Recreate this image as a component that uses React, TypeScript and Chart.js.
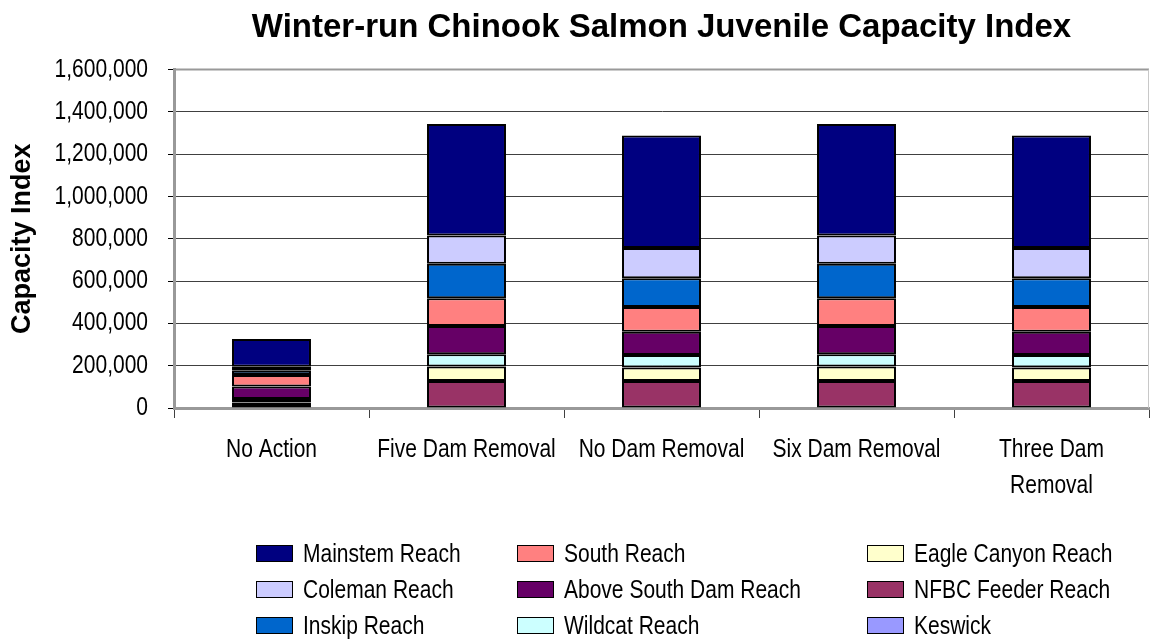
import React, { useEffect, useRef } from "react";
import { Chart, registerables } from "chart.js";

Chart.register(...registerables);

const categories: (string | string[])[] = [
  "No Action",
  "Five Dam Removal",
  "No Dam Removal",
  "Six Dam Removal",
  ["Three Dam", "Removal"],
];

// stacked bottom to top
const keswick = [0, 0, 0, 0, 0];
const nfbcFeederReach = [14000, 128000, 128000, 128000, 128000];
const eagleCanyonReach = [12000, 68000, 63000, 68000, 63000];
const wildcatReach = [16000, 58000, 60000, 58000, 60000];
const aboveSouthDamReach = [60000, 134000, 110000, 134000, 110000];
const southReach = [54000, 131000, 116000, 131000, 116000];
const inskipReach = [20000, 163000, 137000, 163000, 137000];
const colemanReach = [19000, 134000, 142000, 134000, 142000];
const mainstemReach = [131000, 527000, 532000, 527000, 532000];

const yMin = 0;
const yMax = 1600000;
const yStep = 200000;

const seriesNames = [
  "Keswick",
  "NFBC Feeder Reach",
  "Eagle Canyon Reach",
  "Wildcat Reach",
  "Above South Dam Reach",
  "South Reach",
  "Inskip Reach",
  "Coleman Reach",
  "Mainstem Reach",
];
const seriesValues = [
  keswick,
  nfbcFeederReach,
  eagleCanyonReach,
  wildcatReach,
  aboveSouthDamReach,
  southReach,
  inskipReach,
  colemanReach,
  mainstemReach,
];
const seriesColors = [
  "#9999FF",
  "#993366",
  "#FFFFCC",
  "#CCFFFF",
  "#660066",
  "#FF8080",
  "#0066CC",
  "#CCCCFF",
  "#000080",
];

// legend columns (column-major)
const legendColumns = [
  ["Mainstem Reach", "Coleman Reach", "Inskip Reach"],
  ["South Reach", "Above South Dam Reach", "Wildcat Reach"],
  ["Eagle Canyon Reach", "NFBC Feeder Reach", "Keswick"],
];

const FONT = "'Liberation Sans', Arial, Helvetica, sans-serif";
const STRETCH = 1.22;
const fmt = (v: number) => Number(v).toLocaleString("en-US");

const plotFrame = {
  id: "plotFrame",
  beforeDatasetsDraw(chart: any) {
    const { ctx, chartArea } = chart;
    ctx.save();
    ctx.strokeStyle = "#999999";
    ctx.lineWidth = 2;
    ctx.beginPath();
    ctx.moveTo(chartArea.left, chartArea.top);
    ctx.lineTo(chartArea.right, chartArea.top);
    ctx.stroke();
    ctx.strokeStyle = "#c8c8c8";
    ctx.lineWidth = 1;
    ctx.beginPath();
    ctx.moveTo(chartArea.right - 0.5, chartArea.top);
    ctx.lineTo(chartArea.right - 0.5, chartArea.bottom);
    ctx.stroke();
    ctx.restore();
  },
};

// draws the tick labels vertically stretched like the original (Excel export)
const stretchedLabels = {
  id: "stretchedLabels",
  afterDraw(chart: any) {
    const { ctx } = chart;
    const xs = chart.scales.x;
    const ys = chart.scales.y;
    ctx.save();
    ctx.fillStyle = "#000000";
    ctx.font = `21px ${FONT}`;
    ctx.textBaseline = "middle";
    ctx.textAlign = "right";
    ys.ticks.forEach((t: any, i: number) => {
      const py = ys.getPixelForTick(i);
      ctx.save();
      ctx.translate(ys.right - 26, py);
      ctx.scale(1, STRETCH);
      ctx.fillText(fmt(t.value), 0, 0);
      ctx.restore();
    });
    ctx.textAlign = "center";
    xs.ticks.forEach((t: any, i: number) => {
      const px = xs.getPixelForTick(i);
      const lbl = chart.data.labels[i];
      const lines = Array.isArray(lbl) ? lbl : [lbl];
      lines.forEach((line: string, li: number) => {
        ctx.save();
        ctx.translate(px, xs.top + 42 + li * 36);
        ctx.scale(1, STRETCH);
        ctx.fillText(line, 0, 0);
        ctx.restore();
      });
    });
    ctx.restore();
  },
};

export default function App() {
  const ref = useRef<HTMLCanvasElement | null>(null);

  useEffect(() => {
    if (!ref.current) return;
    const chart = new Chart(ref.current, {
      type: "bar",
      data: {
        labels: categories as any,
        datasets: seriesNames.map((name, i) => ({
          label: name,
          data: seriesValues[i],
          backgroundColor: seriesColors[i],
          borderColor: "#000000",
          borderWidth: 2,
          borderSkipped: false,
          barPercentage: 0.405,
          categoryPercentage: 1,
        })),
      },
      options: {
        responsive: false,
        animation: false,
        devicePixelRatio: 1,
        layout: { padding: { left: 0, right: 1, top: 0, bottom: 0 } },
        plugins: {
          legend: { display: false },
          tooltip: { enabled: false },
          title: {
            display: true,
            fullSize: false,
            text: "Winter-run Chinook Salmon Juvenile Capacity Index",
            color: "#000000",
            font: { family: FONT, size: 33, weight: "bold", lineHeight: 1.2 },
            padding: { top: 8, bottom: 22 },
          },
        },
        scales: {
          x: {
            stacked: true,
            afterFit: (s: any) => {
              s.height = 232;
            },
            grid: {
              display: true,
              drawOnChartArea: false,
              drawTicks: true,
              tickLength: 10,
              color: "#404040",
              offset: true,
            },
            border: { display: true, color: "#999999", width: 3 },
            ticks: {
              color: "rgba(0,0,0,0)",
              font: { family: FONT, size: 21, lineHeight: 1.72 },
              padding: 13,
              maxRotation: 0,
              autoSkip: false,
            },
          },
          y: {
            stacked: true,
            min: yMin,
            max: yMax,
            afterFit: (s: any) => {
              s.width = 174;
            },
            grid: {
              color: "#404040",
              lineWidth: 1,
              tickLength: 6,
              tickColor: "#000000",
            },
            border: { display: true, color: "#999999", width: 3 },
            ticks: {
              stepSize: yStep,
              color: "rgba(0,0,0,0)",
              font: { family: FONT, size: 21 },
              padding: 20,
              callback: (v: any) => fmt(v),
            },
            title: {
              display: true,
              text: "Capacity Index",
              color: "#000000",
              font: { family: FONT, size: 27, weight: "bold", lineHeight: 1.2 },
              padding: { top: 6, bottom: 0 },
            },
          },
        },
      },
      plugins: [plotFrame, stretchedLabels],
    });
    return () => chart.destroy();
  }, []);

  const colX = [256, 517, 867];
  const rowY = [553, 589, 625];

  return (
    <div
      style={{
        position: "absolute",
        left: 0,
        top: 0,
        width: 1150,
        height: 640,
        background: "#ffffff",
        overflow: "hidden",
      }}
    >
      <canvas ref={ref} width={1150} height={640} style={{ position: "absolute", left: 0, top: 0 }} />
      {legendColumns.map((col, ci) =>
        col.map((name, ri) => {
          const idx = seriesNames.indexOf(name);
          return (
            <div
              key={name}
              style={{
                position: "absolute",
                left: colX[ci],
                top: rowY[ri] - 16,
                height: 32,
                display: "flex",
                alignItems: "center",
                fontFamily: FONT,
                fontSize: 21,
                lineHeight: "32px",
                color: "#000000",
                whiteSpace: "nowrap",
              }}
            >
              <span
                style={{
                  display: "inline-block",
                  width: 35,
                  height: 15,
                  background: seriesColors[idx],
                  border: "1.5px solid #000000",
                  marginRight: 10,
                }}
              />
              <span style={{ display: "inline-block", transform: `scaleY(${STRETCH})` }}>{name}</span>
            </div>
          );
        })
      )}
    </div>
  );
}
